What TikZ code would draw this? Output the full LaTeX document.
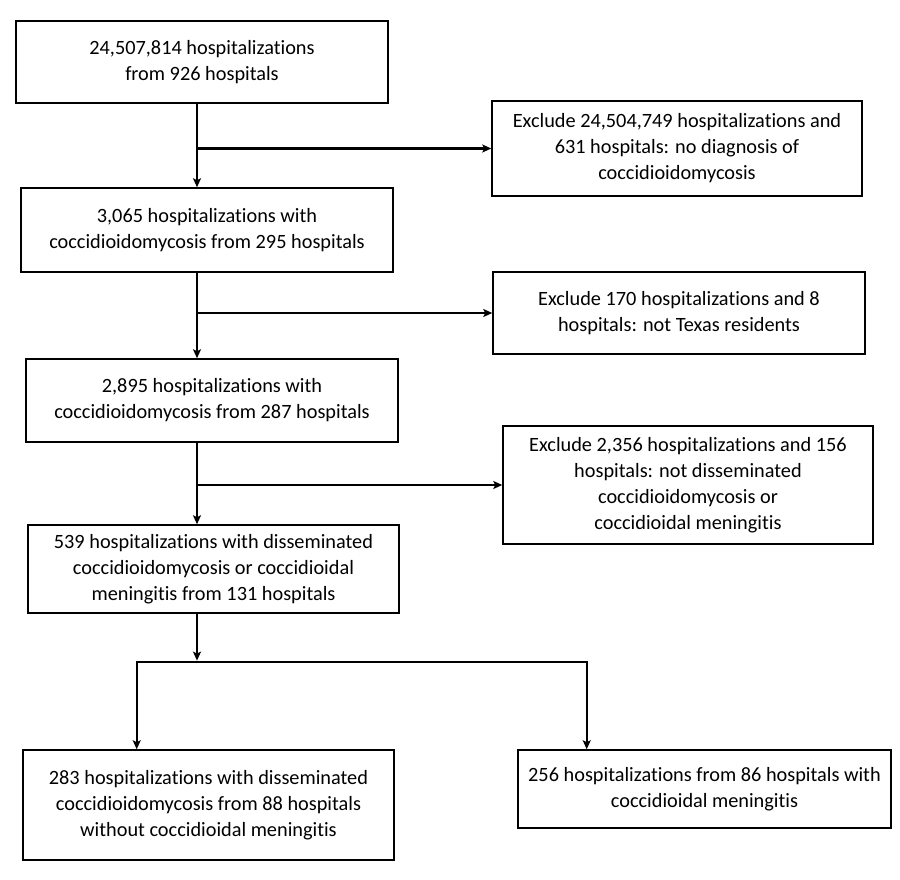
\documentclass[tikz,border=0pt]{standalone}
\usepackage{fontspec}
\setmainfont{Carlito}[Ligatures=NoCommon]
\usetikzlibrary{arrows.meta}
\newcommand{\bxtext}[2]{\raisebox{#1}{\begin{tabular}{@{}c@{}}#2\end{tabular}}}
\begin{document}
\begin{tikzpicture}[x=1pt,y=1pt,
  box/.style={draw=black, line width=1.5pt, inner sep=0pt, minimum height=#1,
    font=\fontsize{20.3}{26}\selectfont, text=black},
  conn/.style={line width=2.2pt, draw=black},
  arr/.style={conn, -{Stealth[length=9pt,width=8pt,inset=2pt]}}]
\useasboundingbox[fill=white] (0,0) rectangle (900,-879);

% main column
\node[box=82pt, minimum width=372pt] (b1) at (202,-62)
  {\bxtext{1pt}{24,507,814 hospitalizations\\from 926 hospitals}};
\node[box=84pt, minimum width=372pt] (b2) at (207,-230)
  {\bxtext{6.5pt}{3,065 hospitalizations with\\coccidioidomycosis from 295 hospitals}};
\node[box=83pt, minimum width=372pt] (b3) at (212,-400.5)
  {\bxtext{7pt}{2,895 hospitalizations with\\coccidioidomycosis from 287 hospitals}};
\node[box=88pt, minimum width=371pt] (b4) at (213.5,-569)
  {\bxtext{-2.7pt}{539 hospitalizations with disseminated\\coccidioidomycosis or coccidioidal\\meningitis from 131 hospitals}};
\node[box=110pt, minimum width=371pt] (b5) at (208.5,-805)
  {\bxtext{1.7pt}{283 hospitalizations with disseminated\\coccidioidomycosis from 88 hospitals\\without coccidioidal meningitis}};
\node[box=78pt, minimum width=373pt] (b6) at (704.5,-789)
  {\bxtext{0pt}{256 hospitalizations from 86 hospitals with\\coccidioidal meningitis}};

% exclusion boxes
\node[box=95pt, minimum width=370pt] (e1) at (677,-148.5)
  {\bxtext{1pt}{Exclude 24,504,749 hospitalizations and\\631 hospitals: no diagnosis of\\coccidioidomycosis}};
\node[box=82pt, minimum width=372pt] (e2) at (679,-313)
  {\bxtext{7pt}{Exclude 170 hospitalizations and 8\\hospitals: not Texas residents}};
\node[box=118pt, minimum width=370pt] (e3) at (688,-485)
  {\bxtext{-1pt}{Exclude 2,356 hospitalizations and 156\\hospitals: not disseminated\\coccidioidomycosis or\\coccidioidal meningitis}};

% trunk and split coordinates
\coordinate (t) at (197,0);
\coordinate (sp) at (197,-661.7);
\coordinate (sl) at (136.7,-661.7);
\coordinate (sr) at (586.7,-661.7);

% vertical flow
\draw[arr] (b1.south -| t) -- (b2.north -| t);
\draw[arr] (b2.south -| t) -- (b3.north -| t);
\draw[arr] (b3.south -| t) -- (b4.north -| t);
\draw[arr] (b4.south -| t) -- ([yshift=1.1pt]sp);

% exclusions
\draw[arr] (e1.west -| t) -- (e1.west);
\draw[arr] (e2.west -| t) -- (e2.west);
\draw[arr] (e3.west -| t) -- (e3.west);

% split
\draw[conn, line cap=rect] (sl) -- (sr);
\draw[arr] (sl) -- (sl |- b5.north);
\draw[arr] (sr) -- (sr |- b6.north);
\end{tikzpicture}
\end{document}
